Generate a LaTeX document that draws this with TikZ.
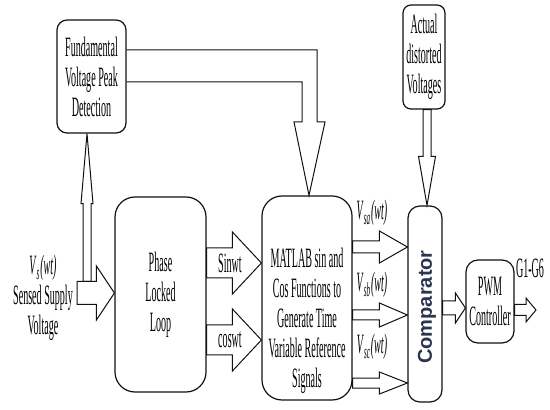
\documentclass[tikz,border=0pt]{standalone}
\usepackage{fontspec}
\setmainfont{Liberation Serif}[FakeStretch=0.36]
\setsansfont{Liberation Sans}
\usetikzlibrary{calc, positioning}
\definecolor{ink}{HTML}{111111}
\definecolor{compcol}{HTML}{2B3550}

% hollow block arrow: tail, tip, shaft half width, head half width, head length
\newcommand{\fatarrow}[5]{%
  \coordinate (hb) at ($(#2)!#5!(#1)$);
  \draw[hollow] ($(#1)!#3!90:(#2)$) -- ($(hb)!#3!90:(#2)$) -- ($(hb)!#4!90:(#2)$) -- (#2)
    -- ($(hb)!#4!-90:(#2)$) -- ($(hb)!#3!-90:(#2)$) -- ($(#1)!#3!-90:(#2)$) -- cycle;}
\newcommand{\vsig}[1]{\textit{V}\textsubscript{\textit{#1}}\textit{(wt)}}

\begin{document}
\begin{tikzpicture}[x=0.5pt, y=-0.5pt,
    box/.style={draw=ink, line width=0.6pt, rounded corners=5pt, align=center,
                inner sep=0pt, font=\fontsize{14}{15}\selectfont},
    hollow/.style={draw=ink, line width=0.5pt, line join=miter},
    txt/.style={font=\fontsize{14}{15}\selectfont, align=center, inner sep=0pt}]
  \useasboundingbox (0,0) rectangle (550,410);
  % blocks
  \node[box, minimum width=34.5pt, minimum height=56.5pt] (fund) at (91.5,76.5)
    {Fundamental\\Voltage Peak\\Detection};
  \node[box, minimum width=21pt, minimum height=52pt, rounded corners=4pt] (actual) at (424,57)
    {Actual\\distorted\\Voltages};
  \node[box, minimum width=45.5pt, minimum height=97.5pt, rounded corners=10pt] (pll) at (160.5,294.5)
    {Phase\\Locked\\Loop};
  \node[box, minimum width=45pt, minimum height=102pt, rounded corners=10pt] (matlab) at (307,298) {};
  \node[txt] (matlabtxt) at (307,321)
    {MATLAB sin and\\Cos Functions to\\Generate Time\\Variable Reference\\Signals};
  \node[box, minimum width=17pt, minimum height=98pt, rounded corners=6pt] (comp) at (425,304) {};
  \node[font=\sffamily\bfseries\fontsize{10}{12}\selectfont, text=compcol, rotate=90] (comptxt)
    at (427,307) {Comparator};
  \node[box, minimum width=24pt, minimum height=41.5pt, rounded corners=6pt] (pwm) at (490,301.5)
    {PWM\\Controller};

  % supply input
  \coordinate (vsin) at (77,293);
  \coordinate (vsout) at (pll.west |- vsin);
  \fatarrow{vsin}{vsout}{5.75pt}{13.5pt}{9pt}
  \node[txt] (vslbl) at (43,298) {\vsig{s}\\Sensed Supply\\Voltage};
  \coordinate (upS) at (87,281.5);
  \coordinate (upT) at (fund.south -| upS);
  \fatarrow{upS}{upT}{2pt}{3pt}{35pt}

  % peak detection to reference generator
  \draw[hollow] (fund.east |- 0,50) -- (317,50) -- (317,122) -- (325,122)
    -- (matlab.north -| 309,0) -- (294,122) -- (302,122) -- (302,82) -- (fund.east |- 0,82);

  % pll outputs
  \coordinate (sinS) at (pll.east |- 0,263);
  \coordinate (sinT) at (matlab.west |- sinS);
  \fatarrow{sinS}{sinT}{7.5pt}{15.5pt}{14.5pt}
  \node[txt] (sinlbl) at (230,263) {Sinwt};
  \coordinate (cosS) at (pll.east |- 0,340);
  \coordinate (cosT) at (matlab.west |- cosS);
  \fatarrow{cosS}{cosT}{7.5pt}{15.5pt}{14.5pt}
  \node[txt] (coslbl) at (230,340) {coswt};

  % actual voltages
  \coordinate (acS) at (actual.south -| 427,0);
  \coordinate (acT) at (comp.north -| acS);
  \fatarrow{acS}{acT}{2pt}{4.25pt}{24.5pt}

  % reference signals
  \coordinate (vaS) at (matlab.east |- 0,247);
  \coordinate (vaT) at (comp.west |- vaS);
  \fatarrow{vaS}{vaT}{3pt}{8pt}{14pt}
  \node[txt] (valbl) at (372,213) {\vsig{sa}};
  \coordinate (vbS) at (matlab.east |- 0,315);
  \coordinate (vbT) at (comp.west |- vbS);
  \fatarrow{vbS}{vbT}{2.5pt}{6pt}{14pt}
  \node[txt] (vblbl) at (372,285) {\vsig{sb}};
  \coordinate (vcS) at (matlab.east |- 0,383);
  \coordinate (vcT) at (comp.west |- vcS);
  \fatarrow{vcS}{vcT}{2.5pt}{5.5pt}{14pt}
  \node[txt] (vclbl) at (372,347) {\vsig{sc}};

  % comparator to pwm and gate signals
  \coordinate (cpS) at (comp.east |- 0,308);
  \coordinate (cpT) at (pwm.west |- cpS);
  \fatarrow{cpS}{cpT}{3.5pt}{7.5pt}{5pt}
  \coordinate (gS) at (pwm.east |- 0,310);
  \coordinate (gT) at (536,310);
  \fatarrow{gS}{gT}{2.75pt}{6pt}{5pt}
  \node[txt] (glbl) at (530,268) {G1-G6};
\end{tikzpicture}
\end{document}
